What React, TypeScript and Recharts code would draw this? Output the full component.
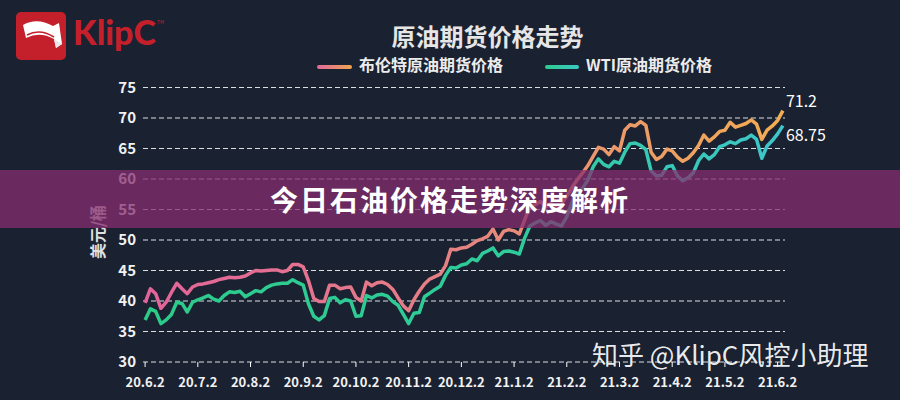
import React from "react";
import { LineChart, Line, XAxis, YAxis, CartesianGrid } from "recharts";

const monthLabels = ["20.6.2","20.7.2","20.8.2","20.9.2","20.10.2","20.11.2","20.12.2","21.1.2","21.2.2","21.3.2","21.4.2","21.5.2","21.6.2"];
const monthTicks = [0,1,2,3,4,5,6,7,8,9,10,11,12];
const yTicks = [30,35,40,45,50,55,60,65,70,75];

// Brent crude futures (USD/bbl), sampled every ~0.1 month from 2020-06-02
const brent = [
  39.7,42.0,41.2,38.8,39.8,41.4,42.9,42.0,41.2,42.3,
  42.7,42.8,43.0,43.2,43.5,43.7,43.9,43.8,43.9,44.1,
  44.6,45.0,44.9,45.0,45.1,45.1,44.8,45.0,46.0,46.0,
  45.6,43.3,40.4,39.9,39.9,42.6,42.6,42.0,42.2,42.3,
  40.6,40.0,43.1,42.5,43.0,43.1,42.7,41.9,40.5,39.2,
  38.4,40.2,41.6,42.8,43.6,44.0,44.4,45.8,48.5,48.4,
  48.7,48.8,49.3,49.9,50.2,50.6,51.8,50.0,51.4,51.7,
  51.5,51.0,53.3,55.5,55.8,56.3,55.4,56.0,55.5,55.9,
  57.2,58.6,59.9,61.0,62.2,63.7,65.2,64.9,64.0,65.3,
  64.6,68.0,68.9,68.7,69.4,68.8,64.4,63.2,63.7,64.9,
  64.6,63.6,62.9,63.4,64.3,65.5,67.2,66.2,66.9,67.8,
  68.0,69.3,68.5,68.8,69.1,69.7,69.0,66.5,68.0,68.7,
  69.6,71.2
];

// WTI crude futures (USD/bbl)
const wti = [
  36.9,38.7,38.3,36.3,36.9,37.8,39.8,39.6,38.2,39.8,
  40.2,40.5,40.9,40.3,40.0,40.9,41.5,41.4,41.6,40.7,
  41.2,41.7,41.5,42.2,42.6,42.8,42.9,42.9,43.5,43.0,
  42.6,39.5,37.5,36.9,37.6,40.4,40.6,39.7,40.2,40.0,
  37.5,37.6,40.9,40.5,41.0,41.1,40.8,39.9,39.3,37.8,
  36.3,38.0,38.1,40.7,41.3,41.9,42.4,44.2,45.5,45.4,
  45.9,46.1,46.9,46.6,47.8,48.2,48.7,47.4,48.1,48.2,
  48.0,47.7,50.3,52.3,52.8,53.2,52.4,53.0,52.6,52.3,
  53.8,56.2,57.8,58.5,59.8,62.0,63.3,62.4,62.0,62.9,
  62.6,64.4,65.8,65.9,65.5,64.8,61.3,60.5,60.6,62.0,
  62.2,60.5,59.7,60.2,61.0,63.0,64.1,63.3,64.0,65.3,
  65.6,66.1,65.8,66.4,66.6,67.2,66.5,63.4,65.4,66.3,
  67.4,68.75
];

const rows = brent.map((b, i) => ({ m: i / 10, brent: b, wti: wti[i] }));

const FONT = "'Noto Sans CJK SC', 'Noto Sans', sans-serif";
const BG = "#1a2131";

const endLabel = (dy: number) => (props: any) => {
  const { x, y, value, index } = props;
  if (index !== rows.length - 1) return null;
  return (
    <text x={x + 3} y={y + dy} fill="#ffffff" fontSize={16} fontFamily={FONT} dominantBaseline="middle">
      {value}
    </text>
  );
};

export default function App() {
  return (
    <div style={{ position: "absolute", left: 0, top: 0, width: 900, height: 400, background: BG, overflow: "hidden", fontFamily: FONT }}>
      {/* Logo */}
      <svg style={{ position: "absolute", left: 15, top: 11 }} width={52} height={50}>
        <rect x={1} y={1} width={50} height={48} rx={5} fill="#c4202b" />
        <path d="M8 14 Q22 6 38 15 L44 12 L47 33 L41 37 L39 28 Q25 20 11 27 Z" fill="#ffffff" />
        <path d="M12 24 Q25 17 39 26" stroke="#c4202b" strokeWidth={1.5} fill="none" />
        <path d="M39 28 L41 37 L47 33" fill="#e8e8e8" />
      </svg>
      <div style={{ position: "absolute", left: 73, top: 12, fontFamily: "Lato, 'Noto Sans', sans-serif", fontWeight: 900, fontSize: 34, color: "#c4202b", lineHeight: "40px" }}>
        KlipC
      </div>
      <div style={{ position: "absolute", left: 157, top: 18, fontSize: 5, color: "#c4202b" }}>TM</div>

      {/* Title */}
      <div style={{ position: "absolute", left: 0, width: 975, top: 20, textAlign: "center", fontSize: 24, fontWeight: 700, color: "#e6e6e6", lineHeight: "32px" }}>
        原油期货价格走势
      </div>

      {/* Legend */}
      <svg style={{ position: "absolute", left: 0, top: 0 }} width={900} height={90}>
        <defs>
          <linearGradient id="lgB" x1="0" y1="0" x2="1" y2="0">
            <stop offset="0%" stopColor="#e0699a" />
            <stop offset="100%" stopColor="#f0a54e" />
          </linearGradient>
          <linearGradient id="lgW" x1="0" y1="0" x2="1" y2="0">
            <stop offset="0%" stopColor="#2fcb8e" />
            <stop offset="100%" stopColor="#3cc8c4" />
          </linearGradient>
        </defs>
        <rect x={317} y={65} width={35} height={4} rx={2} fill="url(#lgB)" />
        <rect x={545} y={65} width={34} height={4} rx={2} fill="url(#lgW)" />
        <text x={359} y={67} fill="#ececec" fontSize={16} fontWeight={700} fontFamily={FONT} dominantBaseline="middle">布伦特原油期货价格</text>
        <text x={586} y={67} fill="#ececec" fontSize={16} fontWeight={700} fontFamily={FONT} dominantBaseline="middle">WTI原油期货价格</text>
      </svg>

      {/* Y axis title */}
      <div style={{ position: "absolute", left: 97, top: 232, transform: "translate(-50%, -50%) rotate(-90deg)", fontSize: 16, fontWeight: 700, color: "#e0e0e0", whiteSpace: "nowrap" }}>
        美元/桶
      </div>

      <div style={{ position: "absolute", left: 0, top: 0 }}>
        <LineChart width={900} height={400} data={rows} margin={{ top: 87.5, right: 115, bottom: 8, left: 0 }}>
          <defs>
            <linearGradient id="gB" gradientUnits="userSpaceOnUse" x1={145} y1={0} x2={785} y2={0}>
              <stop offset="0%" stopColor="#e2639a" />
              <stop offset="45%" stopColor="#e57f86" />
              <stop offset="75%" stopColor="#eb9a68" />
              <stop offset="100%" stopColor="#f2ad52" />
            </linearGradient>
            <linearGradient id="gW" gradientUnits="userSpaceOnUse" x1={145} y1={0} x2={785} y2={0}>
              <stop offset="0%" stopColor="#2ccb8a" />
              <stop offset="60%" stopColor="#2fcb9c" />
              <stop offset="100%" stopColor="#3ec6cc" />
            </linearGradient>
          </defs>
          <CartesianGrid vertical={false} stroke="#ffffff" strokeOpacity={0.85} strokeDasharray="5 3" />
          <XAxis
            type="number"
            dataKey="m"
            domain={[-0.04, 12.14]}
            ticks={monthTicks}
            interval={0}
            tickFormatter={(v: number) => monthLabels[v]}
            axisLine={false}
            tickLine={{ stroke: "#ffffff" }}
            tickSize={5}
            tickMargin={11}
            height={30}
            tick={{ fill: "#f2f2f2", fontSize: 13, fontWeight: 700, fontFamily: FONT }}
          />
          <YAxis
            type="number"
            domain={[30, 75]}
            ticks={yTicks}
            interval={0}
            width={143}
            axisLine={false}
            tickLine={false}
            tickSize={0}
            tickMargin={7}
            tick={{ fill: "#f2f2f2", fontSize: 15, fontWeight: 700, fontFamily: FONT }}
          />
          <Line type="linear" dataKey="brent" stroke="url(#gB)" strokeWidth={3.5} strokeLinejoin="round" dot={false} isAnimationActive={false} label={endLabel(-8)} />
          <Line type="linear" dataKey="wti" stroke="url(#gW)" strokeWidth={3.5} strokeLinejoin="round" dot={false} isAnimationActive={false} label={endLabel(11)} />
        </LineChart>
      </div>

      {/* Banner overlay */}
      <div style={{ position: "absolute", left: 0, top: 170, width: 900, height: 58, background: "rgba(134,46,111,0.75)" }} />
      <div style={{ position: "absolute", left: 0, top: 170, width: 900, height: 58, textAlign: "center", lineHeight: "58px", fontSize: 28, fontWeight: 700, color: "#ffffff", letterSpacing: 2 }}>
        今日石油价格走势深度解析
      </div>

      {/* Watermark */}
      <div style={{ position: "absolute", left: 592, top: 341, fontSize: 26, color: "rgba(255,255,255,0.92)", lineHeight: "26px", whiteSpace: "nowrap" }}>
        知乎 @KlipC风控小助理
      </div>
    </div>
  );
}
